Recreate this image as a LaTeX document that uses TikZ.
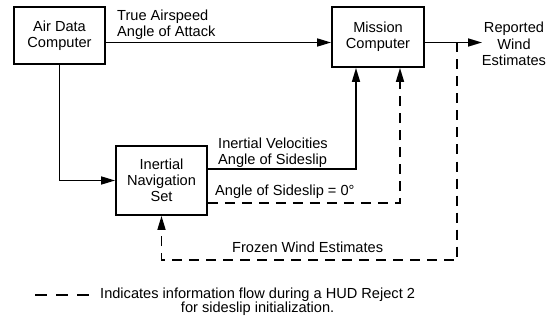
\documentclass[tikz,border=0pt]{standalone}
\usepackage{fontspec}
\setmainfont{Liberation Sans}
\usetikzlibrary{arrows.meta}
\begin{document}
\begin{tikzpicture}[x=1pt,y=-1pt,
  blk/.style={draw, line width=1.8pt, align=center, inner sep=0pt, font=\fontsize{14.6}{16}\selectfont},
  lbl/.style={inner sep=0pt, font=\fontsize{14.6}{16.5}\selectfont},
  flow/.style={line width=1.6pt, -{Triangle[length=14pt,width=8pt]}},
  dflow/.style={flow, dash pattern=on 10pt off 7pt},
  legdash/.style={line width=1.8pt, dash pattern=on 12pt off 9pt}]
\useasboundingbox (0,0) rectangle (547,329);
% blocks
\node[blk, minimum width=91, minimum height=57] (adc) at (59.5,35.5) {Air Data\\Computer};
\node[blk, minimum width=92, minimum height=60] (mc) at (378,37) {Mission\\Computer};
\node[blk, minimum width=91, minimum height=69] (ins) at (161.5,180.5) {Inertial\\Navigation\\Set};
% helper coordinates
\coordinate (yl) at (0,42.5);
\coordinate (out) at (482,42.5);
\coordinate (tap) at (457,42.5);
\coordinate (cA) at (356,169);
\coordinate (cB) at (400,203);
\coordinate (cC) at (457,260);
% connectors
\draw[flow] (adc.east |- yl) -- (mc.west |- yl);
\draw[flow] (adc.south) |- (ins.west);
\draw[flow] (ins.east |- cA) -| (mc.south -| cA);
\draw[dflow] (ins.east |- cB) -| (mc.south -| cB);
\draw[flow] (mc.east |- yl) -- (out);
\draw[dflow] (tap) -- (cC) -| (ins.south);
% labels
\node[lbl, anchor=north west, align=left] (l1) at (117,9.5) {True Airspeed\\Angle of Attack};
\node[lbl, align=center] (l2) at (514,44) {Reported\\Wind\\Estimates};
\node[lbl, anchor=north west, align=left] (l3) at (218,137.5) {Inertial Velocities\\Angle of Sideslip};
\node[lbl, anchor=base west] (l4) at (215,195) {Angle of Sideslip = 0°};
\node[lbl, anchor=base west] (l5) at (232,252) {Frozen Wind Estimates};
% legend
\coordinate (lg1) at (35,295);
\coordinate (lg2) at (93,295);
\draw[legdash] (lg1) -- (lg2);
\node[lbl, anchor=north west, align=center, font=\fontsize{14.6}{14}\selectfont] (leg) at (100,288) {Indicates information flow during a HUD Reject 2\\for sideslip initialization.};
\end{tikzpicture}
\end{document}
